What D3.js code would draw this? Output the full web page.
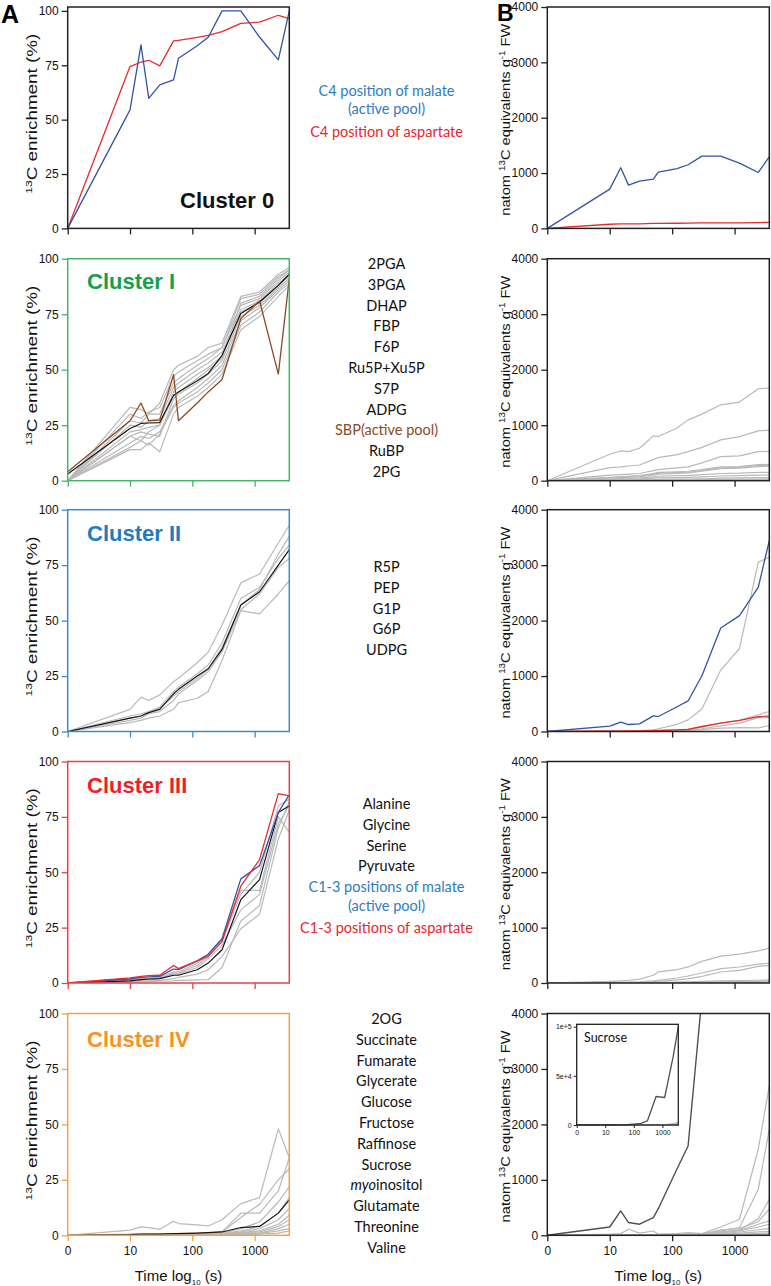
<!DOCTYPE html>
<html><head><meta charset="utf-8">
<script src="https://cdn.jsdelivr.net/npm/d3@7"></script>
<style>
body{margin:0;background:#fff}
svg{display:block}
text{font-family:"Liberation Sans",Arial,sans-serif}
.lst{font-family:Lato,"Open Sans",sans-serif}
</style></head><body>
<svg id="c" width="771" height="1286"></svg>
<script>
// ---------- DATA ----------
const times = [0,10,15,20,30,50,60,120,180,300,600,1200,2400,3600];
const xTickValues = [0,10,100,1000];
const xTickLabels = ["0","10","100","1000"];
const yTicksA = [0,25,50,75,100];
const yTicksB = [0,1000,2000,3000,4000];
const insetYTicks = [0,50000,100000];
const insetYLabels = ["0","5e+4","1e+5"];

// Cluster 0
const c0A_malate = [0,54.5,84.4,59.8,66,68.3,78.2,84,87.9,100,100,88,77.5,100];
const c0A_asp    = [0,74.4,76.5,77.3,74.7,86.2,86.5,87.8,88.8,90.5,94.3,94.8,98,96.5];
const c0B_malate = [0,710,1095,782,854,890,1017,1080,1150,1305,1305,1180,1010,1293];
const c0B_asp    = [0,75,80,80,80,90,90,93,95,100,100,100,105,110];

// Cluster I
const c1A_gray = [
  [0,33,32,30,35,50,52,56,60,62,83,85,93,96],
  [0,30,28,31,33,47,49,54,57,60,82,84,92,95],
  [0,27,26,30,30,44,46,52,55,60,79,82,90,94],
  [0,25,24,27,28,42,44,50,53,58,77,81,89,93],
  [0,22,23,24,25,40,42,48,51,56,76,80,88,92],
  [0,20,22,21,20,37,39,44,48,54,74,79,87,91],
  [0,17,20,19,22,34,36,42,46,52,72,78,86,90],
  [0,15,18,16,21,33,35,40,44,50,70,76,85,89],
  [0,14,14,17,13,30,33,38,42,48,68,74,83,88],
  [0,20,18,22,25,38,40,46,50,55,80,83,91,95]
];
const c1A_sbp  = [4,27,35,27,27.3,47.8,27,35,40,45.6,73,81,48,91];
const c1A_mean = [3,23.5,25.8,26,26.2,38.5,40,45,48.3,56.5,75.3,80.5,88,93];
const c1B_gray = [
  [0,476,536,524,584,807,795,950,1096,1200,1367,1416,1657,1669],
  [0,235,250,265,283,380,416,470,524,600,735,795,898,910],
  [0,100,110,120,130,180,200,230,250,320,434,446,524,530],
  [0,60,70,80,90,130,150,160,170,200,250,255,290,295],
  [0,55,65,75,85,120,135,145,155,185,230,240,275,280],
  [0,50,60,65,75,100,120,130,140,170,215,225,255,260],
  [0,30,40,45,50,70,80,90,95,110,130,135,150,150],
  [0,20,25,30,35,45,50,55,60,70,85,90,100,100],
  [0,10,12,15,18,22,25,28,30,35,45,50,55,55],
  [0,5,6,8,10,12,14,16,18,20,25,28,30,32],
  [0,2,3,4,5,6,7,8,9,10,12,14,15,15]
];

// Cluster II
const c2A_gray = [
  [0,10,15.5,14,16.5,22.5,24,31,35.8,48,67,71,85,93],
  [0,7,8,9,10.5,16,18,24,28,38,57,64,80,88],
  [0,5,6,8,9,14,17,23,27,36,55,62,74,78],
  [0,4,5,6,7,10,13,15,18,32,54.5,53,62,68],
  [0,6,7,9,11,18,20,26,30,40,60,65,78,84]
];
const c2A_mean = [0,6,7,8.5,10,17,19,25,28.3,37,57,63,75,82];
const c2B_gray = [
  [0,5,8,10,15,30,50,130,210,407,1108,1497,3054,3144],
  [0,5,5,8,10,15,18,30,45,80,150,200,300,360],
  [0,3,4,5,6,10,12,20,30,50,100,150,250,300],
  [0,2,3,3,4,6,8,12,20,35,60,70,66,108]
];
const c2B_blue = [0,96,168,126,138,281,270,447,551,1006,1868,2090,2605,3443];
const c2B_red  = [0,5,8,10,12,15,18,30,40,90,150,200,270,260];

// Cluster III
const c3A_gray = [
  [0,1.5,2,2,2.5,5,5,9,13,20,41.8,41.8,75,68],
  [0,1,1.2,1.5,2,4,4,7,11,17,33,40,72,80],
  [0,0.5,0.8,1,1.2,2,2.5,4,6,12,24.5,31,65,78],
  [0,0.3,0.5,0.6,0.8,1,1.2,1.4,1.5,7,28,35,70,82],
  [0,1.2,1.5,1.8,2,4.5,4.5,8,12,19,40,50,80,83]
];
const c3A_mean  = [0,1,1.5,1.8,2,3.5,3.5,6,9,15,37.6,46.7,77,80];
const c3A_blue  = [0,1.8,2.5,2.8,3,6.3,6,10,13,20,47,53,77,85];
const c3A_red   = [0,2.3,3,3.3,3.5,7.9,6.5,10,12,18.7,43.7,55.7,85.5,84.5];
const c3B_gray = [
  [0,30,40,50,70,140,200,240,290,390,484,520,580,630],
  [0,10,12,15,20,40,50,90,126,180,259,289,340,361],
  [0,5,8,10,12,25,30,55,75,120,199,229,300,319],
  [0,2,3,4,5,8,10,15,20,30,40,45,50,55],
  [0,1,1,2,2,4,5,8,10,15,20,25,30,35],
  [0,0,1,1,1,2,2,3,4,6,8,10,12,15]
];

// Cluster IV
const c4A_gray = [
  [0,2.3,3.8,3.5,2.7,6.3,5.3,4.7,4.2,7,14.3,17,48,35],
  [0,0.5,0.5,0.6,0.7,0.8,0.9,1,1.2,1.5,10,10,20,35],
  [0,0.3,0.4,0.4,0.5,0.6,0.7,0.8,1,1.5,8,14,25,30],
  [0,0.2,0.3,0.3,0.4,0.5,0.5,0.6,0.8,1,3,6,15,22],
  [0,0.2,0.2,0.3,0.3,0.4,0.4,0.5,0.6,0.8,2,4,10,17],
  [0,0.1,0.2,0.2,0.2,0.3,0.3,0.4,0.5,0.6,1.5,3,7,12],
  [0,0.1,0.1,0.2,0.2,0.2,0.3,0.3,0.4,0.5,1.2,2,5,9],
  [0,0.1,0.1,0.1,0.2,0.2,0.2,0.3,0.3,0.4,1,1.5,4,7],
  [0,0,0.1,0.1,0.1,0.1,0.2,0.2,0.2,0.3,0.8,1,3,5],
  [0,0,0,0.1,0.1,0.1,0.1,0.1,0.2,0.2,0.5,0.8,2,3],
  [0,0,0,0,0.1,0.1,0.1,0.1,0.1,0.2,0.3,0.5,1,2]
];
const c4A_mean = [0,0.3,0.5,0.5,0.5,0.8,0.8,1,1.2,1.5,3.5,4,10,16];
const c4B_gray = [
  [0,0,5,10,5,5,5,10,20,30,150,289,1554,2700],
  [0,0,0,5,5,5,5,10,15,20,80,139,831,1916],
  [0,20,30,110,40,78,20,30,50,30,60,100,300,650],
  [0,0,0,5,5,5,10,15,20,20,100,120,250,470],
  [0,0,0,0,0,5,5,10,15,15,60,90,200,260],
  [0,0,0,0,0,0,5,5,10,10,40,80,150,200],
  [0,0,0,0,0,0,0,5,5,10,30,60,100,120],
  [0,0,0,0,0,0,0,0,5,5,20,40,60,70],
  [0,0,0,0,0,0,0,0,0,0,10,20,30,40],
  [0,0,0,0,0,0,0,0,0,0,5,10,15,20]
];
const c4B_sucrose = [0,150,440,230,200,320,480,1200,1610,4300,29000,28000,70000,100000];

// Middle lists
const list0 = ["C4 position of malate\n(active pool)","C4 position of aspartate"];
const list1 = ["2PGA","3PGA","DHAP","FBP","F6P","Ru5P+Xu5P","S7P","ADPG","SBP(active pool)","RuBP","2PG"];
const list2 = ["R5P","PEP","G1P","G6P","UDPG"];
const list3 = ["Alanine","Glycine","Serine","Pyruvate","C1-3 positions of malate\n(active pool)","C1-3 positions of aspartate"];
const list4 = ["2OG","Succinate","Fumarate","Glycerate","Glucose","Fructose","Raffinose","Sucrose","*myo*inositol","Glutamate","Threonine","Valine"];
const clusterTitles = ["Cluster 0","Cluster I","Cluster II","Cluster III","Cluster IV"];

// ---------- STYLE ----------
const GRAY="#b9b9b9", MEAN="#151515", BLUE="#3553a6", RED="#ea2a2e", BROWN="#8a4a22", SUC="#505050";
const TXT_BLUE="#2f7cc0", TXT_RED="#e8262c";
const titleColor=["#111","#15a04b","#1f7cc1","#ee1f26","#f7931e"];
const frameColor=["#222","#48b468","#3d8bcb","#ef3d43","#f8a040"];

// ---------- LAYOUT ----------
const svg=d3.select("#c");
const rowTop=[7,258.7,509.7,761.5,1013.5];
const rowBot=[228.4,480.7,731.5,983,1235.3];
const lg=t=>t<1?0:Math.log10(t);
const xMax=Math.log10(3600);
const xA=d3.scaleLinear().domain([0,xMax]).range([67.7,289.3]);
const xB=d3.scaleLinear().domain([0,xMax]).range([547.3,769.3]);

const defs=svg.append("defs");

function panel(r, x, yDomMax, yTicks, fc, side){
  const y=d3.scaleLinear().domain([0,yDomMax]).range([rowBot[r],rowTop[r]]);
  const id="clip"+side+r;
  defs.append("clipPath").attr("id",id).append("rect")
    .attr("x",x.range()[0]).attr("y",rowTop[r]).attr("width",x.range()[1]-x.range()[0]).attr("height",rowBot[r]-rowTop[r]);
  const gl=svg.append("g").attr("clip-path",`url(#${id})`);
  const ay=svg.append("g").attr("transform",`translate(${x.range()[0]},0)`)
    .call(d3.axisLeft(y).tickValues(yTicks).tickSize(6).tickPadding(3).tickFormat(d3.format("d")));
  const ax=svg.append("g").attr("transform",`translate(0,${rowBot[r]})`)
    .call(d3.axisBottom(x).tickValues(xTickValues.map(lg)).tickSize(6).tickPadding(5)
      .tickFormat((d,i)=> r===4 ? xTickLabels[i] : ""));
  [ay,ax].forEach(a=>{
    a.select(".domain").remove();
    a.selectAll("line").attr("stroke",fc).attr("stroke-width",1.3);
    a.selectAll("text").attr("font-size",12).attr("fill","#111").attr("font-family","Liberation Sans, Arial, sans-serif");
  });
  svg.append("rect").attr("x",x.range()[0]).attr("y",rowTop[r])
    .attr("width",x.range()[1]-x.range()[0]).attr("height",rowBot[r]-rowTop[r])
    .attr("fill","none").attr("stroke",fc).attr("stroke-width",1.5);
  const line=d3.line().x((d,i)=>x(lg(times[i]))).y(d=>y(d));
  return {draw:(vals,color,w)=>gl.append("path").attr("d",line(vals)).attr("fill","none")
      .attr("stroke",color).attr("stroke-width",w||1.2).attr("stroke-linejoin","round")};
}

const A=[0,1,2,3,4].map(r=>panel(r,xA,r===0?101.8:100,yTicksA,frameColor[r],"A"));
const B=[0,1,2,3,4].map(r=>panel(r,xB,4000,yTicksB,"#222","B"));

A[0].draw(c0A_asp,RED,1.3); A[0].draw(c0A_malate,BLUE,1.3);
B[0].draw(c0B_asp,RED,1.3); B[0].draw(c0B_malate,BLUE,1.3);
c1A_gray.forEach(v=>A[1].draw(v,GRAY)); A[1].draw(c1A_mean,MEAN); A[1].draw(c1A_sbp,BROWN,1.3);
c1B_gray.forEach(v=>B[1].draw(v,GRAY));
c2A_gray.forEach(v=>A[2].draw(v,GRAY)); A[2].draw(c2A_mean,MEAN);
c2B_gray.forEach(v=>B[2].draw(v,GRAY)); B[2].draw(c2B_red,RED,1.3); B[2].draw(c2B_blue,BLUE,1.3);
c3A_gray.forEach(v=>A[3].draw(v,GRAY)); A[3].draw(c3A_mean,MEAN); A[3].draw(c3A_blue,BLUE,1.3); A[3].draw(c3A_red,RED,1.3);
c3B_gray.forEach(v=>B[3].draw(v,GRAY));
c4A_gray.forEach(v=>A[4].draw(v,GRAY)); A[4].draw(c4A_mean,MEAN);
c4B_gray.forEach(v=>B[4].draw(v,GRAY)); B[4].draw(c4B_sucrose,SUC,1.4);

// Inset
(function(){
  const x0=576.7,x1=678.3,yb=1125,yt=1024.3;
  const xi=d3.scaleLinear().domain([0,xMax]).range([x0,x1]);
  const yi=d3.scaleLinear().domain([0,100000*(yb-yt)/(yb-1026.7)]).range([yb,yt]);
  svg.append("rect").attr("x",x0-6).attr("y",yt-4).attr("width",x1-x0+10).attr("height",yb-yt+22).attr("fill","#fff");
  const g=svg.append("g");
  const line=d3.line().x((d,i)=>xi(lg(times[i]))).y(d=>yi(d));
  c4B_gray.forEach(v=>g.append("path").attr("d",line(v)).attr("fill","none").attr("stroke",GRAY).attr("stroke-width",1));
  g.append("path").attr("d",line(c4B_sucrose)).attr("fill","none").attr("stroke",SUC).attr("stroke-width",1.3);
  const ay=svg.append("g").attr("transform",`translate(${x0},0)`)
    .call(d3.axisLeft(yi).tickValues(insetYTicks).tickSize(3).tickPadding(2).tickFormat((d,i)=>insetYLabels[i]));
  const ax=svg.append("g").attr("transform",`translate(0,${yb})`)
    .call(d3.axisBottom(xi).tickValues(xTickValues.map(lg)).tickSize(3).tickPadding(2).tickFormat((d,i)=>xTickLabels[i]));
  [ay,ax].forEach(a=>{a.select(".domain").remove();a.selectAll("line").attr("stroke","#222");
    a.selectAll("text").attr("font-size",7).attr("fill","#111");});
  svg.append("rect").attr("x",x0).attr("y",yt).attr("width",x1-x0).attr("height",yb-yt)
    .attr("fill","none").attr("stroke","#222").attr("stroke-width",1.3);
  svg.append("text").attr("class","lst").attr("x",584).attr("y",1041.5).attr("font-size",12.5).attr("fill","#111").text("Sucrose");
})();

// Cluster titles
const titlePos=[[180,208],[87,289],[87,541],[87,792.7],[87,1047.3]];
clusterTitles.forEach((t,r)=>svg.append("text").attr("x",titlePos[r][0]).attr("y",titlePos[r][1])
  .attr("font-size",22).attr("font-weight","bold").attr("fill",titleColor[r]).text(t));

// Axis titles
[0,1,2,3,4].forEach(r=>{
  const cy=(rowTop[r]+rowBot[r])/2-4;
  const ta=svg.append("text").attr("transform",`translate(37,${cy}) rotate(-90)`).attr("text-anchor","middle")
    .attr("font-size",14).attr("fill","#111").attr("textLength",160).attr("lengthAdjust","spacingAndGlyphs");
  ta.append("tspan").attr("font-size",9).attr("dy",-5).text("13");
  ta.append("tspan").attr("dy",5).text("C enrichment (%)");
  const tb=svg.append("text").attr("transform",`translate(510,${cy+6}) rotate(-90)`).attr("text-anchor","middle")
    .attr("font-size",13.5).attr("fill","#111").attr("textLength",192).attr("lengthAdjust","spacingAndGlyphs");
  tb.append("tspan").text("natom ");
  tb.append("tspan").attr("font-size",9).attr("dy",-5).text("13");
  tb.append("tspan").attr("dy",5).text("C equivalents g");
  tb.append("tspan").attr("font-size",9).attr("dy",-5).text("-1");
  tb.append("tspan").attr("dy",5).text(" FW");
});
[[178.5],[658.3]].forEach(([cx])=>{
  const t=svg.append("text").attr("x",cx).attr("y",1281).attr("text-anchor","middle").attr("font-size",15).attr("fill","#111");
  t.append("tspan").text("Time log");
  t.append("tspan").attr("font-size",8).attr("dy",4).text("10");
  t.append("tspan").attr("dy",-4).text(" (s)");
});
svg.append("text").attr("x",1).attr("y",23).attr("font-size",25).attr("font-weight","bold").text("A");
svg.append("text").attr("x",497).attr("y",21).attr("font-size",23).attr("font-weight","bold").text("B");

// Middle lists
const listStart=[90.7,264,567,804,1019];
const lists=[list0,list1,list2,list3,list4];
function itemColor(s){
  if(s.indexOf("malate")>=0) return TXT_BLUE;
  if(s.indexOf("aspartate")>=0) return TXT_RED;
  if(s.indexOf("SBP")===0) return BROWN;
  return "#111";
}
lists.forEach((L,r)=>{
  let y=listStart[r];
  L.forEach(item=>{
    const lines=item.split("\n"); const col=itemColor(item);
    lines.forEach((ln,k)=>{
      const t=svg.append("text").attr("class","lst").attr("x",386.5).attr("y",y).attr("dy","0.35em")
        .attr("text-anchor","middle").attr("font-size",14.5).attr("fill",col);
      if(ln.startsWith("*myo*")){ t.append("tspan").attr("font-style","italic").text("myo"); t.append("tspan").text(ln.slice(5)); }
      else t.text(ln);
      y += (k<lines.length-1)?18.6:(lines.length>1?22.4:20.8);
    });
  });
});
</script></body></html>
